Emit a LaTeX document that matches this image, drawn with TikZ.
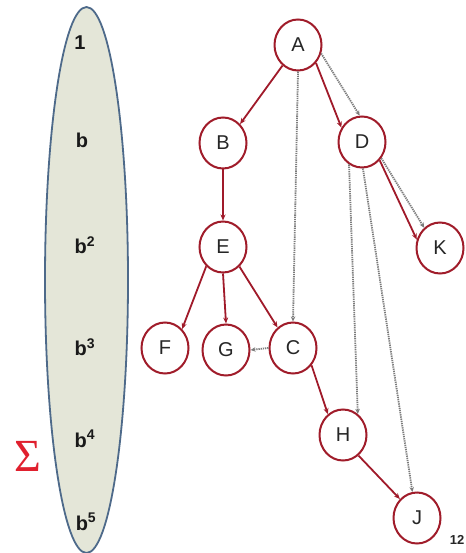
\documentclass[tikz,border=0pt]{standalone}
\usepackage{fontspec}
\setmainfont{Liberation Sans}
\newfontfamily\sigfont{Liberation Serif}
\usetikzlibrary{shapes.geometric,arrows.meta}
\definecolor{nodered}{HTML}{A01C2A}
\definecolor{edgered}{HTML}{A01A2A}
\definecolor{dotgray}{HTML}{7C7C7C}
\definecolor{ellfill}{HTML}{E4E6D8}
\definecolor{ellline}{HTML}{4E6A8A}
\definecolor{sigred}{HTML}{E0202E}
\tikzset{
  vnode/.style={ellipse,draw=nodered,line width=2pt,fill=white,minimum width=47pt,minimum height=51pt,inner sep=0pt,font=\fontsize{20}{20}\selectfont,text=black!85},
  tedge/.style={draw=edgered,line width=1.8pt,-{Stealth[length=6pt,width=5pt]}},
  dedge/.style={draw=dotgray,line width=1.8pt,dash pattern=on 1.3pt off 0.9pt,-{Stealth[length=5pt,width=4.5pt]}},
  powlab/.style={font=\fontsize{20}{20}\selectfont\bfseries,text=black!90}
}
\begin{document}
\begin{tikzpicture}[x=1pt,y=-1pt]
\useasboundingbox (0,0) rectangle (465,553);
\fill[white] (0,0) rectangle (465,553);
% series ellipse
\node[ellipse,draw=ellline,line width=1.8pt,fill=ellfill,minimum width=83pt,minimum height=546pt,inner sep=0pt] (ell) at (86.5,280) {};
\node[powlab] (p0) at (80,43) {1};
\node[powlab] (p1) at (82,140) {b};
\node[powlab] (p2) at (85,245) {b$^{\mathbf 2}$};
\node[powlab] (p3) at (85,347) {b$^{\mathbf 3}$};
\node[powlab] (p4) at (85,439) {b$^{\mathbf 4}$};
\node[powlab] (p5) at (86,522) {b$^{\mathbf 5}$};
\node[text=sigred,font=\sigfont\fontsize{46}{46}\selectfont,inner sep=0pt] (sig) at (28,456) {Σ};
% tree nodes
\node[vnode] (A) at (298,45) {A};
\node[vnode] (B) at (223,143) {B};
\node[vnode] (D) at (362,142) {D};
\node[vnode] (E) at (223,247) {E};
\node[vnode] (K) at (440,248) {K};
\node[vnode] (F) at (165,348) {F};
\node[vnode] (G) at (226,350) {G};
\node[vnode] (C) at (293,348) {C};
\node[vnode] (H) at (343,435) {H};
\node[vnode] (J) at (417,518) {J};
\node[anchor=east,font=\fontsize{13}{13}\selectfont\bfseries,text=black!85,inner sep=0.5pt] (num) at (465,540) {12};
% tree edges
\draw[tedge] (A.-127) -- (B.48);
\draw[tedge] (A.-45) -- (D.145);
\draw[tedge] (B.south) -- (E.north);
\draw[tedge] (E.-131) -- (F.48);
\draw[tedge] (E.south) -- (G.north);
\draw[tedge] (E.-50) -- (C.127);
\draw[tedge] (C.-43) -- (H.126);
\draw[tedge] (H.-53) -- (J.132);
\draw[tedge] (D.-46) -- (K.160);
% dotted edges
\draw[dedge] (A.south) -- (C.north);
\draw[dedge] (A.-20) -- (D.95);
\draw[dedge] (D.-40) -- (K.128);
\draw[dedge] (D.-120) -- (H.55);
\draw[dedge] (D.-88) -- (J.100);
\draw[dedge] (C.west) -- (G.east);
\end{tikzpicture}
\end{document}
